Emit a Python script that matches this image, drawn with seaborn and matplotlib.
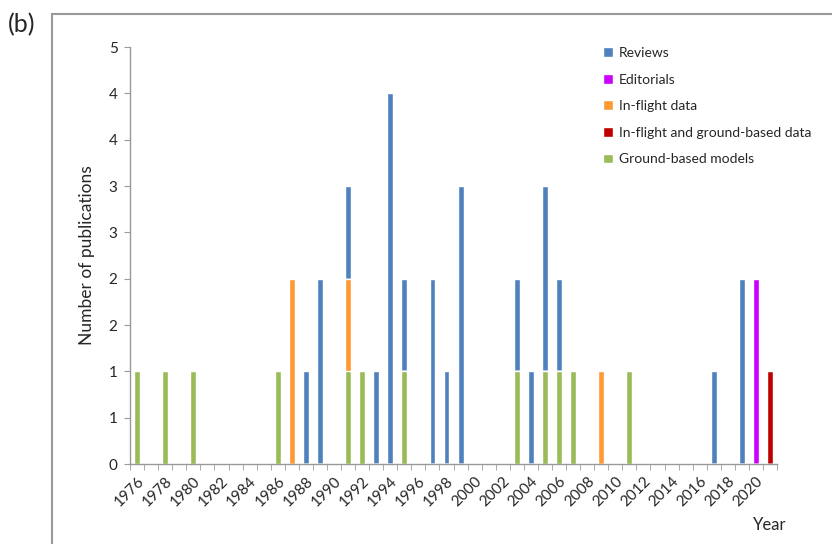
import numpy as np
import pandas as pd
import matplotlib
matplotlib.use("Agg")
import matplotlib.pyplot as plt
from matplotlib.patches import Patch, Rectangle
import seaborn as sns

# ==================================================
# Data (publications per year, by type)
# ==================================================
years = list(range(1976, 2022))

reviews_years = [1988, 1989, 1991, 1993, 1994, 1995, 1997, 1998, 1999,
                 2003, 2004, 2005, 2006, 2017, 2019]
reviews_counts = [1, 2, 1, 1, 4, 1, 2, 1, 3, 1, 1, 2, 1, 1, 2]

editorials_years = [2020]
editorials_counts = [2]

inflight_years = [1987, 1991, 2009]
inflight_counts = [2, 1, 1]

inflight_ground_years = [2021]
inflight_ground_counts = [1]

ground_years = [1976, 1978, 1980, 1986, 1991, 1992, 1995, 2003, 2005,
                2006, 2007, 2011]
ground_counts = [1, 1, 1, 1, 1, 1, 1, 1, 1, 1, 1, 1]

ytick_values = [0, 0.5, 1, 1.5, 2, 2.5, 3, 3.5, 4, 4.5]
ytick_labels = ["0", "1", "1", "2", "2", "3", "3", "4", "4", "5"]

colors = {
    "Reviews": "#4F81BD",
    "Editorials": "#CC00FF",
    "In-flight data": "#FF9933",
    "In-flight and ground-based data": "#C00000",
    "Ground-based models": "#9BBB59",
}

# ==================================================
# Build table, stack order bottom -> top
# ==================================================
def series(yrs, cnts):
    s = pd.Series(0, index=years, dtype=float)
    for yr, c in zip(yrs, cnts):
        s[yr] = c
    return s

df = pd.DataFrame({
    "Ground-based models": series(ground_years, ground_counts),
    "In-flight data": series(inflight_years, inflight_counts),
    "In-flight and ground-based data": series(inflight_ground_years, inflight_ground_counts),
    "Editorials": series(editorials_years, editorials_counts),
    "Reviews": series(reviews_years, reviews_counts),
})
cum = df.cumsum(axis=1)
cum["Year"] = [str(y) for y in years]
order = cum["Year"].tolist()

# ==================================================
# Plot
# ==================================================
sns.set_style("white")
plt.rcParams["font.family"] = ["Lato", "DejaVu Sans"]

fig = plt.figure(figsize=(8.32, 5.44), dpi=100)
ax = fig.add_axes([0.1563, 0.147, 0.934 - 0.1563, 0.9136 - 0.147])

# draw the tallest cumulative layer first, then cover with lower ones
for col in reversed(df.columns.tolist()):
    sns.barplot(data=cum, x="Year", y=col, order=order, color=colors[col],
                saturation=1, width=0.42, ax=ax, errorbar=None)

ax.set_xlim(-0.5, len(years) - 0.5)
ax.set_ylim(0, 4.5)
ax.set_yticks(ytick_values)
ax.set_yticklabels(ytick_labels, fontsize=11)

pos = np.arange(len(years))
ax.set_xticks(pos[::2])
ax.set_xticklabels(order[::2], rotation=45, ha="right", rotation_mode="anchor",
                   fontsize=11)
ax.set_xticks(np.arange(-0.5, len(years), 1), minor=True)
ax.tick_params(axis="x", which="major", length=0, pad=7)
ax.tick_params(axis="x", which="minor", length=4, color="#999999", direction="out",
               bottom=True)
ax.tick_params(axis="y", length=4, color="#999999", direction="out", left=True,
               pad=5)

for side in ["top", "right"]:
    ax.spines[side].set_visible(False)
for side in ["left", "bottom"]:
    ax.spines[side].set_color("#999999")
    ax.spines[side].set_linewidth(1)

ax.set_xlabel("")
ax.set_ylabel("Number of publications", fontsize=12.5, labelpad=10)
fig.text(0.925, 0.035, "Year", fontsize=12, ha="center", va="center")
fig.text(0.01, 0.955, "(b)", fontsize=18, ha="left", va="center")

legend_order = ["Reviews", "Editorials", "In-flight data",
                "In-flight and ground-based data", "Ground-based models"]
handles = [Patch(facecolor=colors[k], label=k) for k in legend_order]
ax.legend(handles=handles, loc="upper left", bbox_to_anchor=(0.712, 1.03),
          frameon=False, fontsize=10, handlelength=0.7, handleheight=0.7,
          handletextpad=0.4, labelspacing=1.05)

# chart area border
fig.patches.append(Rectangle((0.0625, -0.1), 1.0, 0.974 + 0.1, fill=False,
                             edgecolor="#999999", linewidth=1.5,
                             transform=fig.transFigure))

fig.savefig("out.png", dpi=100)
